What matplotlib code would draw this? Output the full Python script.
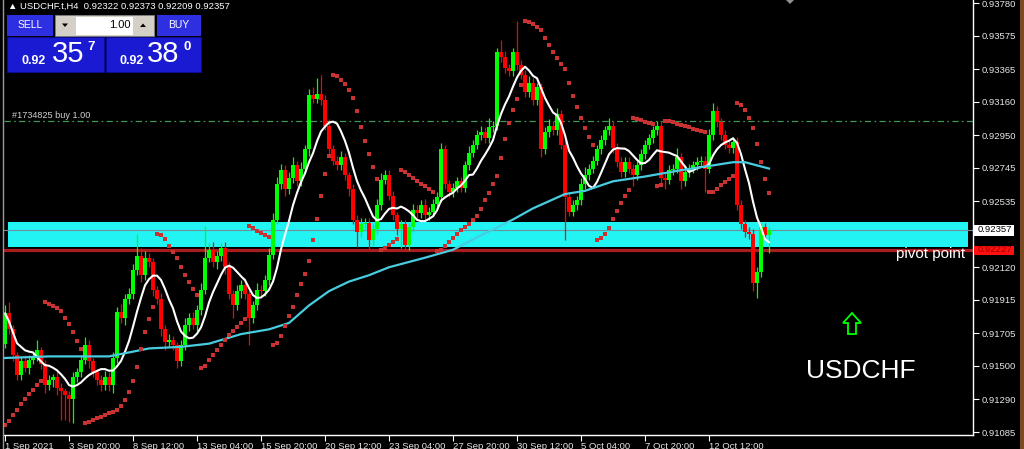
import numpy as np
import pandas as pd
import matplotlib
matplotlib.use('Agg')
import matplotlib.pyplot as plt
from matplotlib.patches import Rectangle, Polygon

plt.rcParams['font.family'] = ['Liberation Sans', 'DejaVu Sans']
plt.rcParams['lines.scale_dashes'] = False

# ---------------- data ----------------
symbol_title = 'USDCHF'
header_text = '\u25b2 USDCHF.t,H4  0.92322 0.92373 0.92209 0.92357'
order_text = '#1734825 buy 1.00'

first_open = 0.9164
closes = [
    0.9183, 0.9173, 0.9157, 0.9144, 0.9153, 0.9149, 0.9154, 0.9155, 0.9160, 0.9151, 0.9138, 0.9141, 0.9143, 0.9136, 0.9134, 0.9132,
    0.9129, 0.9143, 0.9146, 0.9154, 0.9163, 0.9153, 0.9146, 0.9141, 0.9138, 0.9143, 0.9138, 0.9155, 0.9184, 0.9180, 0.9192, 0.9195,
    0.9210, 0.9219, 0.9207, 0.9218, 0.9215, 0.9198, 0.9192, 0.9173, 0.9165, 0.9166, 0.9163, 0.9153, 0.9163, 0.9176, 0.9180, 0.9176,
    0.9185, 0.9198, 0.9218, 0.9223, 0.9215, 0.9219, 0.9224, 0.9212, 0.9195, 0.9188, 0.9197, 0.9201, 0.9195, 0.9180, 0.9188, 0.9198,
    0.9197, 0.9204, 0.9220, 0.9242, 0.9264, 0.9273, 0.9261, 0.9268, 0.9276, 0.9266, 0.9274, 0.9286, 0.9320, 0.9318, 0.9321, 0.9317,
    0.9301, 0.9286, 0.9279, 0.9276, 0.9281, 0.9270, 0.9261, 0.9242, 0.9234, 0.9239, 0.9240, 0.9229, 0.9236, 0.9251, 0.9267, 0.9270,
    0.9257, 0.9245, 0.9236, 0.9239, 0.9226, 0.9237, 0.9248, 0.9246, 0.9251, 0.9245, 0.9247, 0.9252, 0.9256, 0.9286, 0.9264, 0.9259,
    0.9262, 0.9266, 0.9262, 0.9276, 0.9284, 0.9289, 0.9295, 0.9297, 0.9293, 0.9300, 0.9301, 0.9347, 0.9344, 0.9337, 0.9335, 0.9347,
    0.9339, 0.9333, 0.9322, 0.9328, 0.9317, 0.9325, 0.9286, 0.9297, 0.9301, 0.9298, 0.9308, 0.9289, 0.9256, 0.9247, 0.9251, 0.9254,
    0.9264, 0.9270, 0.9274, 0.9279, 0.9286, 0.9292, 0.9298, 0.9301, 0.9287, 0.9278, 0.9272, 0.9278, 0.9274, 0.9270, 0.9276, 0.9283,
    0.9289, 0.9293, 0.9298, 0.9301, 0.9268, 0.9267, 0.9273, 0.9274, 0.9281, 0.9266, 0.9272, 0.9274, 0.9276, 0.9278, 0.9279, 0.9274,
    0.9295, 0.9310, 0.9303, 0.9295, 0.9289, 0.9287, 0.9291, 0.9251, 0.9239, 0.9234, 0.9233, 0.9202, 0.9209, 0.9237, 0.92322, 0.92357,
]
# wick lengths above / below the candle body, in pips (0.0001)
upper_wick_pips = [
    5, 7, 3, 2, 3, 4, 3, 3, 6, 2, 3, 3, 2, 4, 3, 2,
    2, 3, 3, 3, 5, 3, 2, 2, 3, 4, 3, 4, 3, 5, 3, 4,
    4, 14, 5, 4, 3, 3, 2, 4, 3, 4, 3, 2, 3, 4, 3, 4,
    3, 4, 20, 4, 5, 3, 3, 4, 3, 3, 4, 3, 4, 3, 3, 4,
    3, 3, 4, 4, 5, 4, 3, 4, 5, 3, 4, 3, 4, 5, 10, 12,
    3, 4, 3, 3, 4, 3, 2, 3, 3, 4, 3, 3, 3, 4, 4, 3,
    3, 3, 2, 3, 3, 3, 4, 3, 3, 4, 3, 3, 3, 4, 3, 3,
    3, 3, 3, 3, 4, 3, 3, 4, 3, 6, 3, 3, 8, 4, 3, 3,
    20, 3, 3, 4, 3, 3, 3, 3, 4, 3, 4, 3, 3, 3, 3, 3,
    4, 5, 3, 3, 3, 3, 3, 5, 3, 3, 3, 3, 3, 3, 3, 3,
    3, 3, 3, 3, 3, 4, 3, 3, 6, 3, 4, 3, 3, 3, 3, 3,
    4, 5, 3, 3, 3, 3, 3, 3, 3, 3, 3, 3, 3, 3, 3, 1.6,
]
lower_wick_pips = [
    3, 3, 4, 3, 3, 3, 4, 3, 2, 3, 5, 3, 4, 4, 18, 16,
    14, 15, 3, 3, 3, 4, 3, 3, 4, 3, 4, 5, 3, 3, 4, 3,
    3, 3, 4, 3, 3, 4, 3, 4, 5, 3, 3, 4, 3, 3, 4, 3,
    4, 3, 3, 3, 3, 4, 3, 4, 3, 8, 3, 4, 3, 17, 3, 3,
    3, 3, 3, 3, 3, 3, 4, 3, 3, 3, 3, 3, 4, 3, 3, 3,
    3, 3, 3, 3, 3, 3, 4, 3, 9, 3, 3, 6, 3, 3, 3, 3,
    3, 3, 4, 12, 4, 3, 3, 3, 3, 3, 3, 3, 3, 3, 3, 3,
    3, 3, 3, 3, 3, 3, 3, 3, 3, 3, 3, 3, 3, 3, 3, 3,
    3, 3, 3, 3, 3, 3, 5, 3, 3, 3, 3, 3, 27, 3, 3, 3,
    3, 3, 3, 3, 3, 3, 3, 3, 3, 3, 3, 3, 3, 7, 3, 3,
    3, 3, 3, 3, 3, 6, 3, 3, 3, 5, 3, 3, 3, 3, 3, 15,
    3, 3, 3, 3, 3, 3, 3, 3, 3, 3, 3, 5, 9, 3, 3, 11.3,
]

# slow moving average (cyan) read at some bars
slow_ma_bars = [0, 11, 26, 36, 44, 51, 59, 66, 71, 76, 81, 86, 91, 96, 105, 112, 119, 127, 132, 140, 145, 152, 160, 169, 177, 182, 185, 191]
slow_ma_values = [0.9155, 0.9156, 0.9156, 0.9161, 0.9162, 0.9164, 0.9170, 0.9173, 0.9177, 0.9188, 0.9197, 0.9203, 0.9207, 0.9212,
                  0.9218, 0.9223, 0.9232, 0.9242, 0.9249, 0.9258, 0.9260, 0.9266, 0.9269, 0.9273, 0.9276, 0.9278, 0.9278, 0.9274]

fast_ma_period = 8
sar_start = dict(up=True, sar=0.9113, ep=0.9188, af=0.03)

x_tick_bars = [0, 16, 32, 48, 64, 80, 96, 112, 128, 144, 160, 176]
x_tick_labels = ['1 Sep 2021', '3 Sep 20:00', '8 Sep 12:00', '13 Sep 04:00', '15 Sep 20:00', '20 Sep 12:00',
                 '23 Sep 04:00', '27 Sep 20:00', '30 Sep 12:00', '5 Oct 04:00', '7 Oct 20:00', '12 Oct 12:00']
y_ticks = [0.93780, 0.93575, 0.93365, 0.93160, 0.92950, 0.92745, 0.92535,
           0.92120, 0.91915, 0.91705, 0.91500, 0.91290, 0.91085]

bid_price = 0.92357
pivot_price = 0.92227
order_price = 0.93039
zone_top = 0.92405
zone_bottom = 0.92248

# ---------------- figure ----------------
W, H = 1024, 449
fig = plt.figure(figsize=(W / 100, H / 100), dpi=100, facecolor='black')
ax = fig.add_axes([4 / W, 14 / H, 969 / W, 435 / H])
ax.set_facecolor('black')
ax.set_xlim(-0.25, 242.0)
ax.set_ylim(0.910662, 0.93799)

n = len(closes)
idx = np.arange(n)
c = np.array(closes)
o = np.array([first_open] + closes[:-1])
hi = np.maximum(o, c) + np.array(upper_wick_pips) * 1e-4
lo = np.minimum(o, c) - np.array(lower_wick_pips) * 1e-4
bull = c >= o
cols = np.where(bull, '#00ff00', '#ff0000')

# zone, lines
ax.axhspan(zone_bottom, zone_top, xmin=4 / 969, xmax=964 / 969, color='#22f4f4', zorder=1, lw=0)
ax.axhline(order_price, color='#3f9a55', lw=0.9, ls=(0, (4.5, 2.4, 1.2, 2.4)), zorder=2)
ax.axhline(bid_price, color='#6f8f9a', lw=0.8, zorder=2)
ax.axhline(pivot_price, color='#a81e1e', lw=2.3, zorder=2)

# candles
ax.vlines(idx, lo, hi, colors=cols, lw=0.9, zorder=4)
body = np.maximum(np.abs(c - o), 0.00005)
ax.bar(idx, body, bottom=np.minimum(o, c), width=0.8, color=cols, lw=0, zorder=5)

# moving averages
fast = pd.Series(c).rolling(fast_ma_period, min_periods=1).mean()
ax.plot(idx, fast, color='white', lw=1.5, zorder=6)
ax.plot(slow_ma_bars, slow_ma_values, color='#48cce0', lw=1.6, zorder=6)

# parabolic SAR computed from the candles
def psar(highs, lows, up, sar, ep, af, step=0.02, amax=0.2):
    out = []
    for i in range(len(highs)):
        if up and lows[i] < sar:
            up, sar, ep, af = False, ep, lows[i], step
        elif (not up) and highs[i] > sar:
            up, sar, ep, af = True, ep, highs[i], step
        out.append(sar)
        if up and highs[i] > ep:
            ep, af = highs[i], min(af + step, amax)
        elif (not up) and lows[i] < ep:
            ep, af = lows[i], min(af + step, amax)
        sar = sar + af * (ep - sar)
        if up:
            sar = min(sar, lows[i], lows[i - 1] if i else lows[i])
        else:
            sar = max(sar, highs[i], highs[i - 1] if i else highs[i])
    return np.array(out)

sar = psar(hi, lo, **sar_start)
ax.plot(idx, sar, 's', ms=2.3, mew=0, color='#c83232', zorder=7)

# axes styling
for s in ['top', 'left']:
    ax.spines[s].set_visible(False)
for s in ['right', 'bottom']:
    ax.spines[s].set_color('white')
    ax.spines[s].set_linewidth(1)
ax.yaxis.tick_right()
ax.set_yticks(y_ticks)
ax.set_yticklabels([f'{v:.5f}' for v in y_ticks])
ax.set_xticks(x_tick_bars)
ax.set_xticklabels(x_tick_labels, ha='left')
ax.tick_params(axis='both', direction='out', length=4, color='white', labelcolor='#e6e6e6', labelsize=6.8)
ax.tick_params(axis='x', pad=1)
ax.tick_params(axis='y', pad=2)

# ---------------- overlay (pixel coordinates) ----------------
ov = fig.add_axes([0, 0, 1, 1], facecolor='none')
ov.set_xlim(0, W)
ov.set_ylim(H, 0)
ov.axis('off')

def rect(x, y, w, h, fc, ec='none', lw=0, z=10):
    ov.add_patch(Rectangle((x, y), w, h, facecolor=fc, edgecolor=ec, linewidth=lw, zorder=z))

ov.plot([3, 3], [0, H], color='#9a9a9a', lw=1)
rect(1020, 0, 4, H, '#7a4a20')
ov.add_patch(Polygon([(786, 0), (794, 0), (790, 4)], closed=True, fc='#909090', ec='none'))

ov.text(8, 6, header_text, color='white', fontsize=6.8, va='center', ha='left')
ov.text(12, 116, order_text, color='#cfcfcf', fontsize=6.6, va='center', ha='left')

# trade panel
rect(7, 15, 46, 21, '#2f2fe2')
ov.text(30, 25.5, 'SELL', color='white', fontsize=7.5, ha='center', va='center', zorder=11)
rect(55, 15, 99, 21, '#d4d0c8', '#808080', 0.6)
rect(76, 16.5, 57, 18, 'white')
ov.text(131, 25.5, '1.00', color='black', fontsize=8, ha='right', va='center', zorder=11)
ov.add_patch(Polygon([(62, 23.5), (68, 23.5), (65, 27)], closed=True, fc='black', zorder=11))
ov.add_patch(Polygon([(140, 27), (146, 27), (143, 23.5)], closed=True, fc='black', zorder=11))
rect(157, 15, 44, 21, '#2f2fe2')
ov.text(179, 25.5, 'BUY', color='white', fontsize=7.5, ha='center', va='center', zorder=11)
rect(7, 37, 97, 35, '#1a1ad2', '#0c0c90', 0.8)
rect(106, 37, 95, 35, '#1a1ad2', '#0c0c90', 0.8)
ov.text(22, 61, '0.92', color='white', fontsize=9, fontweight='bold', ha='left', va='center', zorder=11)
ov.text(52, 54, '35', color='white', fontsize=21, ha='left', va='center', zorder=11)
ov.text(87, 47, '7', color='white', fontsize=9.5, fontweight='bold', ha='left', va='center', zorder=11)
ov.text(120, 61, '0.92', color='white', fontsize=9, fontweight='bold', ha='left', va='center', zorder=11)
ov.text(147, 54, '38', color='white', fontsize=21, ha='left', va='center', zorder=11)
ov.text(184, 47, '0', color='white', fontsize=9.5, fontweight='bold', ha='left', va='center', zorder=11)

# price labels on the right axis
rect(974, 224.5, 40, 11, 'white')
ov.text(978, 230, f'{bid_price:.5f}', color='black', fontsize=6.8, ha='left', va='center', zorder=11)
rect(974, 245.5, 40, 9, '#ff1010')
ov.text(978, 250, f'{pivot_price:.5f}', color='#a00000', fontsize=6.8, ha='left', va='center', zorder=11)

# annotations
ov.text(965, 254, 'pivot point', color='white', fontsize=11, ha='right', va='center')
ov.text(806, 371, symbol_title, color='white', fontsize=19, ha='left', va='center')
ov.add_patch(Polygon([(852, 313), (861, 323), (856, 323), (856, 334), (848, 334), (848, 323), (843, 323)],
                     closed=True, fill=False, edgecolor='#00ff00', lw=1.3))

fig.savefig('out.png', dpi=100, facecolor='black')
